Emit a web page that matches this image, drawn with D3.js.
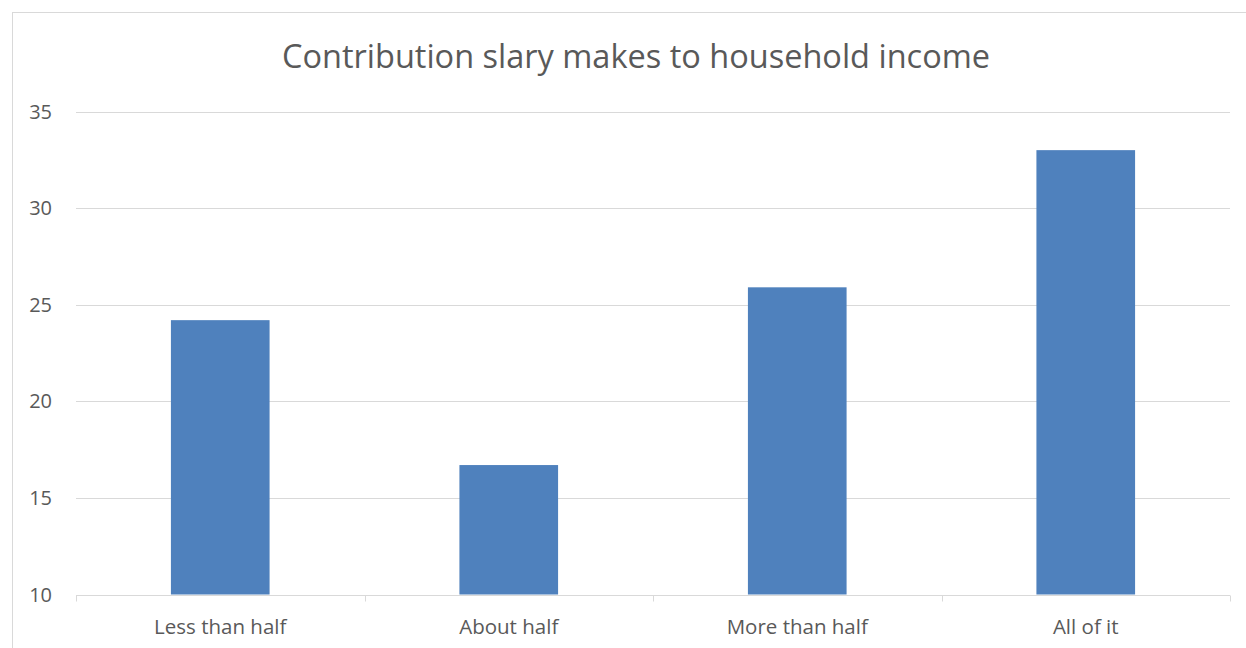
<!DOCTYPE html>
<html>
<head>
<meta charset="utf-8">
<script src="https://cdn.jsdelivr.net/npm/d3@7"></script>
<style>
  html, body { margin: 0; padding: 0; background: #fff; }
  svg { display: block; }
</style>
</head>
<body>
<div id="chart"></div>
<script>
// Share of respondents by how much of household income their salary covers
const categories = ["Less than half", "About half", "More than half", "All of it"];
const values = [24.2, 16.7, 25.9, 33.0];
const yTicks = [10, 15, 20, 25, 30, 35];
const title = "Contribution slary makes to household income";

const W = 1246, H = 648;
const margin = { left: 76, right: 16, top: 111.5, bottom: 53.5 };

const svg = d3.select("#chart").append("svg")
  .attr("width", W).attr("height", H);

const font = "'Open Sans', 'Liberation Sans', sans-serif";

// chart frame
svg.append("rect")
  .attr("x", 12.5).attr("y", 12.5)
  .attr("width", W + 10).attr("height", H + 10)
  .attr("fill", "#fff").attr("stroke", "#d9d9d9").attr("stroke-width", 1);

const x = d3.scaleBand()
  .domain(categories)
  .range([margin.left, W - margin.right])
  .paddingInner(0.658)
  .paddingOuter(0.329);

const y = d3.scaleLinear()
  .domain([10, 35])
  .range([H - margin.bottom, margin.top]);

// horizontal gridlines
svg.append("g")
  .selectAll("line")
  .data(yTicks.filter(t => t !== 10))
  .join("line")
  .attr("x1", margin.left).attr("x2", W - margin.right)
  .attr("y1", d => Math.round(y(d)) + 0.5).attr("y2", d => Math.round(y(d)) + 0.5)
  .attr("stroke", "#d9d9d9").attr("stroke-width", 1);

// bars
svg.append("g")
  .selectAll("rect")
  .data(categories.map((c, i) => ({ c, v: values[i] })))
  .join("rect")
  .attr("x", d => x(d.c))
  .attr("width", x.bandwidth())
  .attr("y", d => y(d.v))
  .attr("height", d => y(10) - y(d.v))
  .attr("fill", "#4f81bd");

// x axis
const xAxisG = svg.append("g")
  .attr("transform", `translate(0,${Math.round(y(10)) + 0.5})`);
xAxisG.append("line")
  .attr("x1", margin.left).attr("x2", W - margin.right)
  .attr("stroke", "#d9d9d9").attr("stroke-width", 1);
const step = (W - margin.left - margin.right) / categories.length;
xAxisG.selectAll("line.tick")
  .data(d3.range(categories.length + 1))
  .join("line")
  .attr("class", "tick")
  .attr("x1", i => Math.round(margin.left + i * step) + 0.5)
  .attr("x2", i => Math.round(margin.left + i * step) + 0.5)
  .attr("y1", 0).attr("y2", 6)
  .attr("stroke", "#d9d9d9");
xAxisG.selectAll("text")
  .data(categories)
  .join("text")
  .attr("x", d => x(d) + x.bandwidth() / 2)
  .attr("y", 38)
  .attr("text-anchor", "middle")
  .attr("font-family", font)
  .attr("font-size", 20.5)
  .attr("fill", "#595959")
  .text(d => d);

// y axis labels
svg.append("g")
  .selectAll("text")
  .data(yTicks)
  .join("text")
  .attr("x", 52)
  .attr("y", d => y(d))
  .attr("dy", "0.35em")
  .attr("text-anchor", "end")
  .attr("font-family", font)
  .attr("font-size", 20)
  .attr("fill", "#595959")
  .text(d => d);

// title
svg.append("text")
  .attr("x", 636)
  .attr("y", 68)
  .attr("text-anchor", "middle")
  .attr("font-family", font)
  .attr("font-size", 32.5)
  .attr("fill", "#595959")
  .text(title);
</script>
</body>
</html>
